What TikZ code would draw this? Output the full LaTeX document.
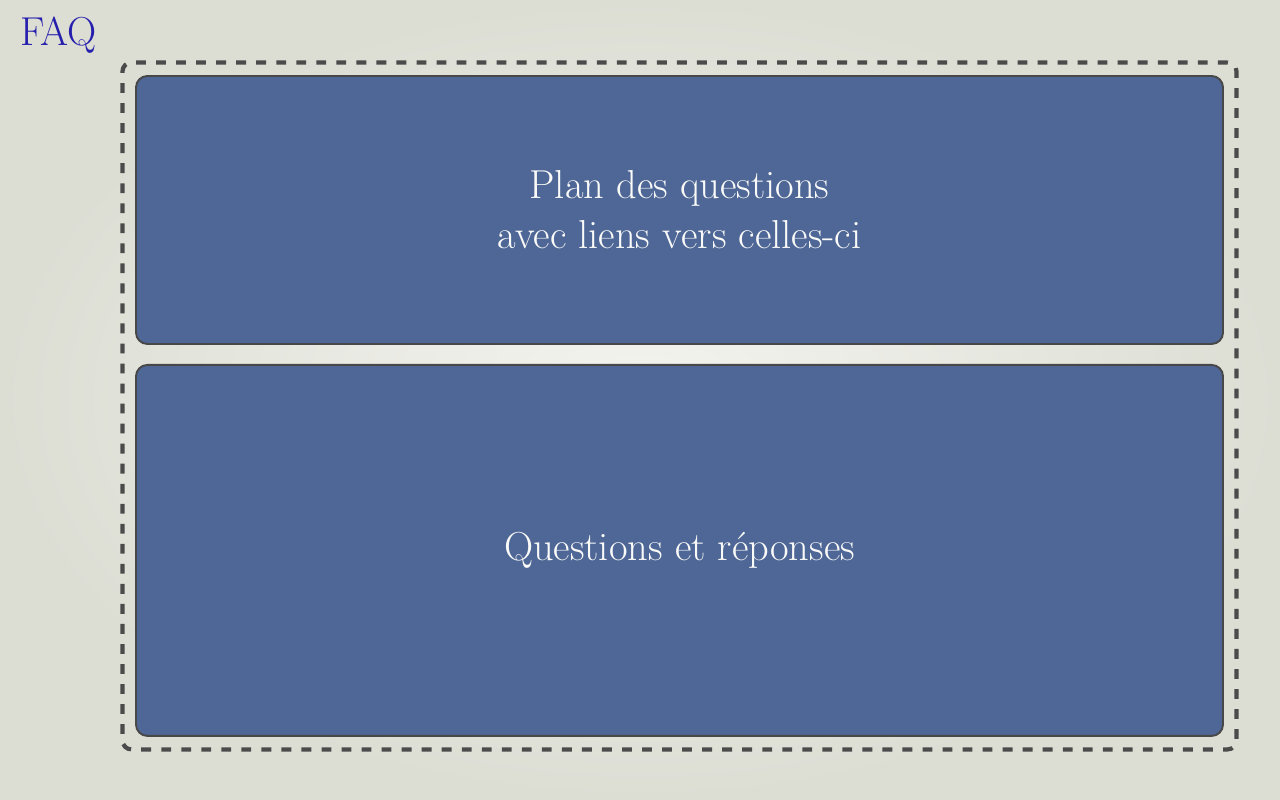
\documentclass[tikz,border=0pt]{standalone}
\usepackage{xcolor}
\usepackage{tikz}
\usetikzlibrary{positioning, fit}
\definecolor{bglight}{RGB}{244,244,239}
\definecolor{bgdark}{RGB}{220,222,212}
\definecolor{myblue}{RGB}{78,103,150}
\definecolor{myborder}{RGB}{72,72,72}
\definecolor{mydash}{RGB}{75,75,75}
\definecolor{mytitle}{RGB}{38,30,172}
\definecolor{mytext}{RGB}{250,250,248}
\tikzset{
  panel/.style={rectangle, draw=myborder, fill=myblue,
    minimum width=21.74cm, inner sep=0pt, align=center,
    text=mytext, font=\fontsize{23}{28.5}\selectfont,
    rounded corners=6.5pt, line width=1.1pt},
  frame/.style={draw=mydash, line width=2.4pt,
    dash pattern=on 5.6pt off 5.8pt, rounded corners=5pt, inner sep=0.25cm}
}
\begin{document}
\begin{tikzpicture}
  \shade[inner color=bglight, outer color=bgdark] (0,0) rectangle (25.6,16);
  \useasboundingbox (0,0) rectangle (25.6,16);

  \node[anchor=west, text=mytitle, font=\fontsize{23}{26}\selectfont, inner sep=0pt] (title) at (0.4,15.3) {FAQ};

  \node[panel, minimum height=5.36cm] (plan) at (13.59,11.8) {Plan des questions\\avec liens vers celles-ci};
  \node[panel, minimum height=7.42cm, below=0.38cm of plan] (qa) {Questions et r\'eponses};

  \node[frame, fit=(plan) (qa)] (faqframe) {};
\end{tikzpicture}
\end{document}
